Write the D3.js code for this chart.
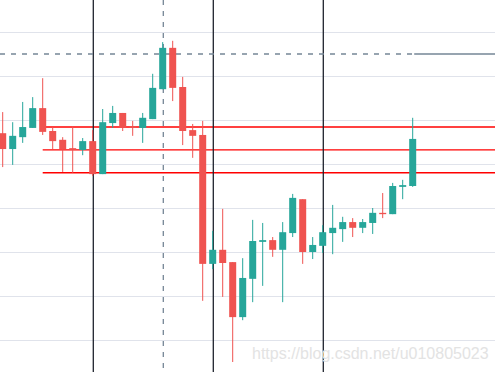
<!DOCTYPE html>
<html>
<head>
<meta charset="utf-8">
<script src="https://cdn.jsdelivr.net/npm/d3@7"></script>
<style>
  html, body { margin: 0; padding: 0; background: #fff; }
  svg { display: block; }
</style>
</head>
<body>
<svg id="chart" width="495" height="372"></svg>
<script>
// candle data (index = bar number)
const opens  = [77.0, 73.4, 76.1, 78.2, 82.7, 77.5, 75.5, 73.6, 73.2, 75.2,
                67.7, 79.3, 81.6, 78.6, 78.2, 80.2, 87.0, 96.4, 87.5, 77.7,
                76.6, 47.3, 50.5, 47.7, 35.2, 43.9, 52.3, 52.7, 50.5, 54.3,
                62.0, 50.0, 51.4, 54.3, 55.2, 56.8, 55.5, 56.6, 58.9, 58.6,
                64.8, 65.0]
const highs  = [81.8, 79.5, 84.1, 85.2, 89.5, 78.4, 76.1, 78.6, 75.9, 77.7,
                82.5, 83.2, 81.6, 79.8, 81.6, 90.5, 97.7, 98.0, 89.8, 79.1,
                79.8, 54.8, 59.8, 47.7, 48.6, 57.3, 56.6, 53.4, 56.8, 63.2,
                62.0, 53.4, 56.1, 60.7, 58.0, 57.7, 57.5, 60.0, 63.4, 65.7,
                66.4, 80.5]
const lows   = [69.3, 69.8, 74.8, 78.2, 76.6, 73.4, 68.2, 68.0, 72.0, 67.3,
                67.7, 78.2, 77.5, 76.4, 74.8, 80.2, 87.0, 84.3, 74.3, 71.4,
                38.9, 46.1, 39.8, 25.0, 34.5, 38.6, 42.3, 48.9, 38.6, 53.4,
                47.3, 48.4, 49.8, 49.5, 52.3, 53.4, 54.3, 54.1, 57.7, 58.6,
                62.0, 64.8]
const closes = [73.4, 76.4, 78.4, 82.7, 77.3, 75.2, 73.4, 73.2, 75.2, 67.7,
                79.5, 81.6, 78.2, 78.2, 80.5, 87.3, 96.4, 87.3, 77.5, 76.4,
                47.3, 50.5, 47.5, 35.2, 44.1, 52.5, 52.7, 50.5, 54.5, 62.3,
                50.0, 51.6, 54.5, 55.5, 56.8, 55.5, 56.8, 58.9, 58.6, 65.0,
                65.2, 75.7]

const gridTicks = [30, 40, 50, 60, 70, 80, 90, 100]
const markerBars = [9, 21, 32]      // solid vertical lines
const crossBar = 16                 // dashed vertical line
const crossPrice = 95.0             // dashed horizontal line
const levelPrices = [78.4, 73.2, 68.0]
const levelStart = 4

const width = 495, height = 372
const upColor = "#26a69a", downColor = "#ef5350"

const candles = opens.map((o, i) => ({i: i, o: o, h: highs[i], l: lows[i], c: closes[i]}))

const x = d3.scaleLinear().domain([0, 41]).range([2.7, 412.7])
const y = d3.scaleLinear().domain([100, 30]).range([32, 340])

const svg = d3.select("#chart")

svg.append("rect")
    .attr("width", width).attr("height", height)
    .attr("fill", "#ffffff")

// horizontal grid
svg.append("g")
    .selectAll("line")
    .data(gridTicks)
    .enter().append("line")
    .attr("x1", 0).attr("x2", width)
    .attr("y1", d => Math.round(y(d)) + 0.5)
    .attr("y2", d => Math.round(y(d)) + 0.5)
    .attr("stroke", "#e0e3eb")
    .attr("stroke-width", 1)

// red levels
svg.append("g")
    .selectAll("line")
    .data(levelPrices)
    .enter().append("line")
    .attr("x1", x(levelStart)).attr("x2", width)
    .attr("y1", d => y(d)).attr("y2", d => y(d))
    .attr("stroke", "#ff0000")
    .attr("stroke-width", 1.4)

// solid vertical markers
svg.append("g")
    .selectAll("line")
    .data(markerBars)
    .enter().append("line")
    .attr("x1", d => x(d) + 0.6).attr("x2", d => x(d) + 0.6)
    .attr("y1", 0).attr("y2", height)
    .attr("stroke", "#1e222d")
    .attr("stroke-width", 1.3)

// crosshair
svg.append("line")
    .attr("x1", x(crossBar) + 0.6).attr("x2", x(crossBar) + 0.6)
    .attr("y1", 0).attr("y2", height)
    .attr("stroke", "#758696")
    .attr("stroke-width", 1.3)
    .attr("stroke-dasharray", "5,6")
svg.append("line")
    .attr("x1", 0).attr("x2", x(41))
    .attr("y1", y(crossPrice)).attr("y2", y(crossPrice))
    .attr("stroke", "#758696")
    .attr("stroke-width", 1.3)
    .attr("stroke-dasharray", "5,6")
svg.append("line")
    .attr("x1", x(41) + 1.5).attr("x2", width)
    .attr("y1", y(crossPrice)).attr("y2", y(crossPrice))
    .attr("stroke", "#758696")
    .attr("stroke-width", 1.3)

// candles
const g = svg.append("g")
const bars = g.selectAll(".candle")
    .data(candles)
    .enter().append("g")
    .attr("class", "candle")

bars.append("line")
    .attr("x1", d => x(d.i)).attr("x2", d => x(d.i))
    .attr("y1", d => y(d.h)).attr("y2", d => y(d.l))
    .attr("stroke", d => d.c >= d.o ? upColor : downColor)
    .attr("stroke-width", 1)

bars.append("rect")
    .attr("x", d => x(d.i) - 3.5)
    .attr("width", 7)
    .attr("y", d => y(Math.max(d.o, d.c)))
    .attr("height", d => Math.max(1, Math.abs(y(d.o) - y(d.c))))
    .attr("fill", d => d.c >= d.o ? upColor : downColor)

// watermark
svg.append("text")
    .attr("x", 252).attr("y", 359)
    .attr("font-family", "Liberation Sans, Arial, sans-serif")
    .attr("font-size", 16)
    .attr("fill", "#e3e3e3")
    .text("https://blog.csdn.net/u010805023")
</script>
</body>
</html>
